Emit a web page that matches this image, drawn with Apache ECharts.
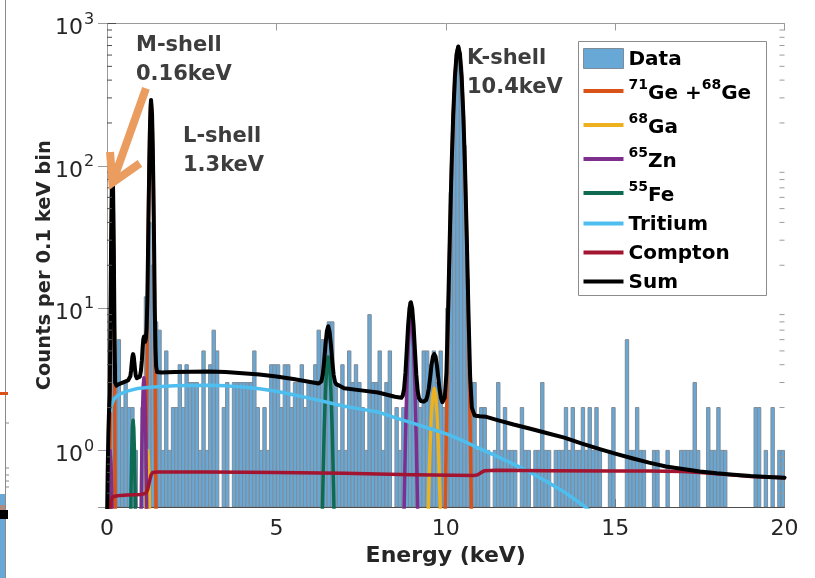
<!DOCTYPE html>
<html>
<head>
<meta charset="utf-8">
<script src="https://cdn.jsdelivr.net/npm/echarts@6.0.0/dist/echarts.min.js"></script>
<style>
  html, body { margin: 0; padding: 0; background: #fff; }
  #chart { width: 815px; height: 578px; }
</style>
</head>
<body>
<div id="chart"></div>
<script>
// counts per 0.1 keV bin, bin i starts at i * 0.1 keV (0 = empty bin)
const binWidth = 0.1
const counts = [
  2, 8, 4, 6, 2, 3, 2, 2, 1, 0,
  2, 12, 40, 20, 8, 7, 1, 5, 1, 2,
  2, 4, 2, 4, 3, 3, 3, 1, 5, 1,
  4, 7, 5, 0, 2, 3, 0, 3, 3, 3,
  3, 3, 3, 5, 2, 1, 2, 1, 4, 4,
  4, 2, 4, 4, 2, 3, 3, 4, 2, 3,
  3, 4, 7, 6, 6, 8, 8, 3, 1, 4,
  1, 5, 3, 4, 3, 2, 1, 9, 3, 3,
  5, 1, 3, 5, 0, 2, 1, 2, 2, 11,
  5, 3, 2, 5, 5, 4, 5, 3, 5, 2,
  10, 65, 330, 660, 500, 140, 16, 3, 3, 1,
  2, 2, 1, 0, 1, 3, 1, 2, 1, 1,
  1, 0, 2, 1, 1, 0, 1, 1, 3, 1,
  1, 0, 1, 1, 1, 2, 1, 2, 1, 1,
  2, 1, 2, 1, 2, 1, 0, 0, 1, 2,
  0, 0, 0, 6, 1, 1, 2, 1, 1, 0,
  0, 1, 1, 0, 0, 1, 0, 0, 0, 1,
  1, 1, 1, 3, 1, 0, 0, 2, 1, 1,
  2, 1, 1, 0, 0, 0, 0, 0, 0, 0,
  0, 2, 2, 0, 1, 0, 2, 0, 1, 1
]

// model curves, [keV, counts]
const geLine = [
  [0.02, 0.01], [0.08, 0.5], [0.1, 5], [0.12, 25], [0.14, 66], [0.16, 91], [0.18, 66], [0.2, 25], [0.22, 5], [0.24, 0.5], [0.3, 0.01],
  [1.1, 0.01], [1.14, 0.13], [1.16, 0.6], [1.18, 3.2], [1.2, 12.6], [1.22, 38], [1.24, 93], [1.26, 174], [1.28, 253], [1.3, 287],
  [1.32, 253], [1.34, 174], [1.36, 93], [1.38, 38], [1.4, 12.6], [1.42, 3.2], [1.44, 0.6], [1.46, 0.13], [1.6, 0.01],
  [9.9, 0.01], [9.97, 0.23], [10.02, 1.5], [10.07, 7.6], [10.12, 30], [10.17, 93], [10.22, 223], [10.27, 417], [10.32, 607], [10.37, 688],
  [10.42, 607], [10.47, 417], [10.52, 223], [10.57, 93], [10.62, 30], [10.67, 7.6], [10.72, 1.5], [10.77, 0.23], [10.85, 0.01]
]
const gaLine = [
  [1.06, 0.01], [1.1, 0.04], [1.13, 0.22], [1.16, 0.61], [1.18, 0.88], [1.2, 1.0], [1.22, 0.88], [1.24, 0.61], [1.27, 0.22], [1.3, 0.04], [1.34, 0.01],
  [9.3, 0.01], [9.42, 0.08], [9.46, 0.23], [9.5, 0.56], [9.54, 1.11], [9.58, 1.83], [9.62, 2.47], [9.66, 2.72],
  [9.7, 2.47], [9.74, 1.83], [9.78, 1.11], [9.82, 0.56], [9.86, 0.23], [9.9, 0.08], [10.0, 0.01]
]
const znLine = [
  [0.01, 0.1], [0.03, 0.37], [0.06, 0.8], [0.09, 1.0], [0.12, 0.8], [0.15, 0.37], [0.17, 0.1], [0.2, 0.01],
  [0.95, 0.01], [0.97, 0.04], [0.99, 0.14], [1.01, 0.44], [1.03, 1.05], [1.05, 1.97], [1.07, 2.86], [1.09, 3.24],
  [1.11, 2.86], [1.13, 1.97], [1.15, 1.05], [1.17, 0.44], [1.19, 0.14], [1.21, 0.04], [1.25, 0.01],
  [8.6, 0.01], [8.69, 0.02], [8.73, 0.1], [8.77, 0.38], [8.81, 1.18], [8.85, 2.82], [8.89, 5.28], [8.93, 7.68], [8.97, 8.7],
  [9.01, 7.68], [9.05, 5.28], [9.09, 2.82], [9.13, 1.18], [9.17, 0.38], [9.21, 0.1], [9.25, 0.02], [9.35, 0.01]
]
const feLine = [
  [0.6, 0.01], [0.67, 0.07], [0.69, 0.22], [0.71, 0.53], [0.73, 0.99], [0.75, 1.44], [0.77, 1.63],
  [0.79, 1.44], [0.81, 0.99], [0.83, 0.53], [0.85, 0.22], [0.87, 0.07], [0.95, 0.01],
  [6.2, 0.01], [6.29, 0.035], [6.33, 0.156], [6.37, 0.52], [6.41, 1.35], [6.45, 2.64], [6.49, 3.96], [6.53, 4.53],
  [6.57, 3.96], [6.61, 2.64], [6.65, 1.35], [6.69, 0.52], [6.73, 0.156], [6.77, 0.035], [6.85, 0.01]
]
const tritiumLine = [
  [0.11, 1.9], [0.14, 2.1], [0.2, 2.28], [0.3, 2.42], [0.45, 2.53], [0.6, 2.61], [0.9, 2.72], [1.2, 2.77], [1.6, 2.81],
  [2.0, 2.84], [2.5, 2.86], [3.0, 2.87], [3.5, 2.84], [4.0, 2.79], [4.5, 2.71], [5.0, 2.6], [5.5, 2.46], [6.0, 2.32],
  [6.5, 2.18], [7.0, 2.04], [7.5, 1.95], [8.0, 1.86], [8.5, 1.7], [9.0, 1.56], [9.5, 1.43], [10.0, 1.31], [10.5, 1.17],
  [11.0, 1.03], [11.5, 0.91], [12.0, 0.8], [12.5, 0.7], [13.0, 0.6], [13.5, 0.51], [14.0, 0.42], [14.5, 0.34], [15.0, 0.27]
]
const comptonLine = [
  [0.1, 0.36], [0.12, 0.44], [0.16, 0.47], [0.3, 0.48], [0.6, 0.485], [1.0, 0.49], [1.15, 0.5], [1.2, 0.53], [1.25, 0.6],
  [1.3, 0.67], [1.35, 0.7], [1.5, 0.705], [3, 0.705], [5, 0.7], [7, 0.69], [9, 0.675], [10.85, 0.667], [10.95, 0.675],
  [11.05, 0.7], [11.15, 0.72], [11.5, 0.725], [13, 0.72], [15, 0.715], [16, 0.715], [17, 0.71], [17.5, 0.7],
  [18, 0.685], [18.5, 0.67], [19, 0.655], [19.5, 0.65], [20, 0.643]
]
const sumLine = [
  [0.0, 0.3], [0.02, 0.7], [0.04, 1.3], [0.06, 1.9], [0.08, 2.5], [0.1, 7.5], [0.12, 27], [0.14, 68], [0.16, 93], [0.18, 68],
  [0.2, 27], [0.22, 7.5], [0.24, 3.0], [0.28, 2.85], [0.35, 2.92], [0.5, 3.02], [0.62, 3.1], [0.67, 3.17], [0.69, 3.32],
  [0.71, 3.63], [0.73, 4.1], [0.75, 4.55], [0.77, 4.75], [0.79, 4.55], [0.81, 4.1], [0.83, 3.65], [0.85, 3.35], [0.88, 3.22],
  [0.93, 3.22], [0.97, 3.3], [1.0, 3.6], [1.03, 4.3], [1.05, 5.2], [1.07, 6.0], [1.09, 6.3], [1.11, 6.0], [1.13, 5.8],
  [1.15, 6.2], [1.17, 7.3], [1.19, 11], [1.21, 24], [1.23, 53], [1.25, 110], [1.27, 195], [1.29, 270], [1.3, 290],
  [1.31, 285], [1.33, 230], [1.35, 140], [1.37, 70], [1.39, 28], [1.41, 10], [1.43, 5.3], [1.45, 3.9], [1.48, 3.55],
  [1.6, 3.52], [2.0, 3.55], [2.5, 3.57], [3.0, 3.58], [3.5, 3.55], [4.0, 3.49], [4.5, 3.41], [5.0, 3.3], [5.5, 3.17],
  [6.0, 3.02], [6.25, 2.95], [6.29, 2.96], [6.33, 3.06], [6.37, 3.42], [6.41, 4.25], [6.45, 5.54], [6.49, 6.86], [6.53, 7.45],
  [6.57, 6.85], [6.61, 5.52], [6.65, 4.23], [6.69, 3.4], [6.73, 3.03], [6.77, 2.91], [6.85, 2.86], [7.0, 2.73], [7.5, 2.64],
  [8.0, 2.55], [8.5, 2.38], [8.69, 2.34], [8.73, 2.42], [8.77, 2.7], [8.81, 3.5], [8.85, 5.13], [8.89, 7.58], [8.93, 9.97],
  [8.97, 11.0], [9.01, 9.96], [9.05, 7.55], [9.09, 5.08], [9.13, 3.43], [9.17, 2.62], [9.21, 2.33], [9.27, 2.22], [9.35, 2.2],
  [9.42, 2.26], [9.46, 2.41], [9.5, 2.73], [9.54, 3.27], [9.58, 3.98], [9.62, 4.55], [9.66, 4.75], [9.7, 4.55], [9.74, 3.95],
  [9.78, 3.22], [9.82, 2.66], [9.86, 2.33], [9.9, 2.18], [9.94, 2.15], [9.97, 2.35], [10.02, 3.5], [10.07, 9.6], [10.12, 32],
  [10.17, 95], [10.22, 225], [10.27, 419], [10.32, 609], [10.37, 690], [10.42, 609], [10.47, 419], [10.52, 225], [10.57, 95],
  [10.62, 32], [10.67, 9.4], [10.72, 3.3], [10.77, 2.0], [10.85, 1.76], [11.0, 1.74], [11.2, 1.72], [11.5, 1.64], [12.0, 1.52],
  [12.5, 1.42], [13.0, 1.32], [13.5, 1.23], [14.0, 1.12], [14.5, 1.03], [15.0, 0.95], [15.5, 0.88], [16.0, 0.82], [16.5, 0.77],
  [17.0, 0.74], [17.5, 0.71], [18.0, 0.69], [18.5, 0.675], [19.0, 0.66], [19.5, 0.65], [20.0, 0.643]
]

const yMin = 0.4
const yMax = 1000
const yMajorExponents = [0, 1, 2, 3]
const minorTickValues = [0.5, 0.6, 0.7, 0.8, 0.9, 2, 3, 4, 5, 6, 7, 8, 9, 20, 30, 40, 50, 60, 70, 80, 90, 200, 300, 400, 500, 600, 700, 800, 900]

// legend labels (superscript mass numbers)
const legendLabels = {
  'Data': '{t|Data}',
  '71Ge +68Ge': '{sup|71}{t|Ge +}{sup|68}{t|Ge}',
  '68Ga': '{sup|68}{t|Ga}',
  '65Zn': '{sup|65}{t|Zn}',
  '55Fe': '{sup|55}{t|Fe}',
  'Tritium': '{t|Tritium}',
  'Compton': '{t|Compton}',
  'Sum': '{t|Sum}'
}

const FONT = '"DejaVu Sans", sans-serif'
const barFill = '#68a8d6'
const barEdge = '#7f8c98'
const lineIcon = 'path://M0,0H40V4H0Z'

const chart = echarts.init(document.getElementById('chart'))

function lineSeries(name, data, color, width) {
  return {
    name: name,
    type: 'line',
    data: data,
    symbol: 'none',
    showSymbol: false,
    clip: true,
    itemStyle: { color: color },
    lineStyle: { color: color, width: width, cap: 'round', join: 'round' }
  }
}

const option = {
  animation: false,
  textStyle: { fontFamily: FONT },
  grid: { left: 107, right: 30.5, top: 23.5, bottom: 71 },
  xAxis: [{
    type: 'value', min: 0, max: 20, interval: 5, position: 'bottom',
    axisLine: { show: true, onZero: false, lineStyle: { color: '#4d4d4d' } },
    axisTick: { inside: true, length: 8, lineStyle: { color: '#4d4d4d' } },
    axisLabel: { fontSize: 22, color: '#262626', margin: 11, fontFamily: FONT },
    splitLine: { show: false },
    name: 'Energy (keV)', nameLocation: 'middle', nameGap: 32,
    nameTextStyle: { fontSize: 22, fontWeight: 'bold', color: '#262626', fontFamily: FONT }
  }, {
    type: 'value', min: 0, max: 20, interval: 5, position: 'top',
    axisLine: { show: true, onZero: false, lineStyle: { color: '#9a9a9a' } },
    axisTick: { inside: true, length: 7, lineStyle: { color: '#9a9a9a' } },
    axisLabel: { show: false }, splitLine: { show: false }
  }],
  yAxis: [{
    type: 'log', logBase: 10, min: yMin, max: yMax, position: 'left',
    axisLine: { show: true, lineStyle: { color: '#4d4d4d' } },
    axisTick: { inside: true, length: 9, lineStyle: { color: '#4d4d4d' } },
    axisLabel: { show: false },
    splitLine: { show: false },
    name: 'Counts per 0.1 keV bin', nameLocation: 'middle', nameGap: 52,
    nameTextStyle: { fontSize: 19.5, fontWeight: 'bold', color: '#262626', fontFamily: FONT }
  }, {
    type: 'log', logBase: 10, min: yMin, max: yMax, position: 'right',
    axisLine: { show: true, lineStyle: { color: '#9a9a9a' } },
    axisTick: { inside: true, length: 9, lineStyle: { color: '#9a9a9a' } },
    axisLabel: { show: false }, splitLine: { show: false }
  }],
  legend: {
    orient: 'vertical', left: 583, top: 48, padding: 0,
    itemWidth: 40, itemHeight: 20, itemGap: 9, selectedMode: false,
    formatter: function (name) { return legendLabels[name] },
    textStyle: {
      color: '#000', fontFamily: FONT,
      rich: {
        t: { fontSize: 20, fontWeight: 'bold', lineHeight: 22, verticalAlign: 'bottom', color: '#000', fontFamily: FONT },
        sup: { fontSize: 14, fontWeight: 'bold', lineHeight: 25, verticalAlign: 'top', color: '#000', fontFamily: FONT }
      }
    },
    data: [
      { name: 'Data', icon: 'rect', itemStyle: { color: barFill, borderColor: barEdge, borderWidth: 1 } },
      { name: '71Ge +68Ge', icon: lineIcon },
      { name: '68Ga', icon: lineIcon },
      { name: '65Zn', icon: lineIcon },
      { name: '55Fe', icon: lineIcon },
      { name: 'Tritium', icon: lineIcon },
      { name: 'Compton', icon: lineIcon },
      { name: 'Sum', icon: lineIcon }
    ]
  },
  series: [
    {
      name: 'Data',
      type: 'custom',
      itemStyle: { color: barFill },
      clip: true,
      data: counts.map((c, i) => [i * binWidth, c > 0 ? c : '-']),
      encode: { x: 0, y: 1 },
      renderItem: function (params, api) {
        const x0 = api.value(0)
        const v = api.value(1)
        if (!(v > 0)) return
        const top = api.coord([x0, v])
        const base = api.coord([x0 + binWidth, yMin])
        return {
          type: 'rect',
          shape: { x: top[0], y: top[1], width: base[0] - top[0], height: base[1] - top[1] },
          style: { fill: barFill, stroke: barEdge, lineWidth: 1 }
        }
      }
    },
    lineSeries('71Ge +68Ge', geLine, '#d95319', 3.5),
    lineSeries('68Ga', gaLine, '#edb120', 3.5),
    lineSeries('65Zn', znLine, '#7e2f8e', 3.5),
    lineSeries('55Fe', feLine, '#0e6b52', 3.5),
    lineSeries('Tritium', tritiumLine, '#4dbeee', 3.5),
    lineSeries('Compton', comptonLine, '#a2142f', 3.5),
    lineSeries('Sum', sumLine, '#000000', 4)
  ]
}

chart.setOption(option)

// extra drawing: y tick labels, log minor ticks, legend box, annotations, arrow
const x0px = chart.convertToPixel({ xAxisIndex: 0 }, 0)
const x1px = chart.convertToPixel({ xAxisIndex: 0 }, 20)
const graphics = []

yMajorExponents.forEach(e => {
  const y = chart.convertToPixel({ yAxisIndex: 0 }, Math.pow(10, e))
  graphics.push({
    type: 'text', z: 5, x: x0px - 24, y: y + 5,
    style: { text: '10', font: '22px ' + FONT, fill: '#262626', align: 'right', verticalAlign: 'middle' }
  })
  graphics.push({
    type: 'text', z: 5, x: x0px - 23, y: y - 4,
    style: { text: String(e), font: '16px ' + FONT, fill: '#262626', align: 'left', verticalAlign: 'middle' }
  })
})

minorTickValues.forEach(v => {
  const y = chart.convertToPixel({ yAxisIndex: 0 }, v)
  graphics.push({ type: 'line', z: 5, shape: { x1: x0px, y1: y, x2: x0px + 5, y2: y }, style: { stroke: '#4d4d4d', lineWidth: 1 } })
  graphics.push({ type: 'line', z: 5, shape: { x1: x1px - 5, y1: y, x2: x1px, y2: y }, style: { stroke: '#9a9a9a', lineWidth: 1 } })
})

graphics.push({
  type: 'rect', z: 3,
  shape: { x: 578.5, y: 41.5, width: 188, height: 254 },
  style: { fill: '#fff', stroke: '#8c8c8c', lineWidth: 1 }
})

const annoFont = 'bold 21px ' + FONT
const annotations = [
  { text: 'M-shell\n0.16keV', x: 136, y: 31 },
  { text: 'L-shell\n1.3keV', x: 183, y: 122 },
  { text: 'K-shell\n10.4keV', x: 467, y: 44 }
]
annotations.forEach(a => {
  graphics.push({
    type: 'text', z: 6, x: a.x, y: a.y,
    style: { text: a.text, font: annoFont, fill: '#3d3d3d', lineHeight: 29, verticalAlign: 'top', align: 'left' }
  })
})

// arrow pointing at the M-shell peak (data coordinates)
const toPx = p => chart.convertToPixel({ xAxisIndex: 0, yAxisIndex: 0 }, p)
const shaftStart = toPx([1.15, 350])
const tip = toPx([0.16, 76])
const wingL = toPx([0.09, 125])
const wingR = toPx([0.97, 104])
graphics.push({
  type: 'polyline', z: 6,
  shape: { points: [shaftStart, tip] },
  style: { stroke: '#eb9c5f', lineWidth: 8, lineCap: 'butt', fill: null }
})
graphics.push({
  type: 'polyline', z: 6,
  shape: { points: [wingL, tip, wingR] },
  style: { stroke: '#eb9c5f', lineWidth: 8, lineJoin: 'miter', lineCap: 'butt', fill: null }
})

// fragment of the neighbouring panel at the left edge
graphics.push({ type: 'line', z: 1, shape: { x1: 5.5, y1: 0, x2: 5.5, y2: 578 }, style: { stroke: '#8a8a8a', lineWidth: 1 } })
;[423, 468, 475, 481, 487].forEach(y => {
  graphics.push({ type: 'line', z: 1, shape: { x1: 5.5, y1: y, x2: 9, y2: y }, style: { stroke: '#8a8a8a', lineWidth: 1 } })
})
graphics.push({ type: 'rect', z: 1, shape: { x: 0, y: 392, width: 8, height: 3 }, style: { fill: '#d95319' } })
graphics.push({ type: 'rect', z: 1, shape: { x: 0, y: 494, width: 5, height: 84 }, style: { fill: '#68a8d6' } })
graphics.push({ type: 'rect', z: 1, shape: { x: 0, y: 505, width: 5, height: 8 }, style: { fill: '#b08a80' } })
graphics.push({ type: 'rect', z: 2, shape: { x: 0, y: 510, width: 8, height: 9 }, style: { fill: '#000' } })

chart.setOption({ graphic: graphics })
</script>
</body>
</html>
